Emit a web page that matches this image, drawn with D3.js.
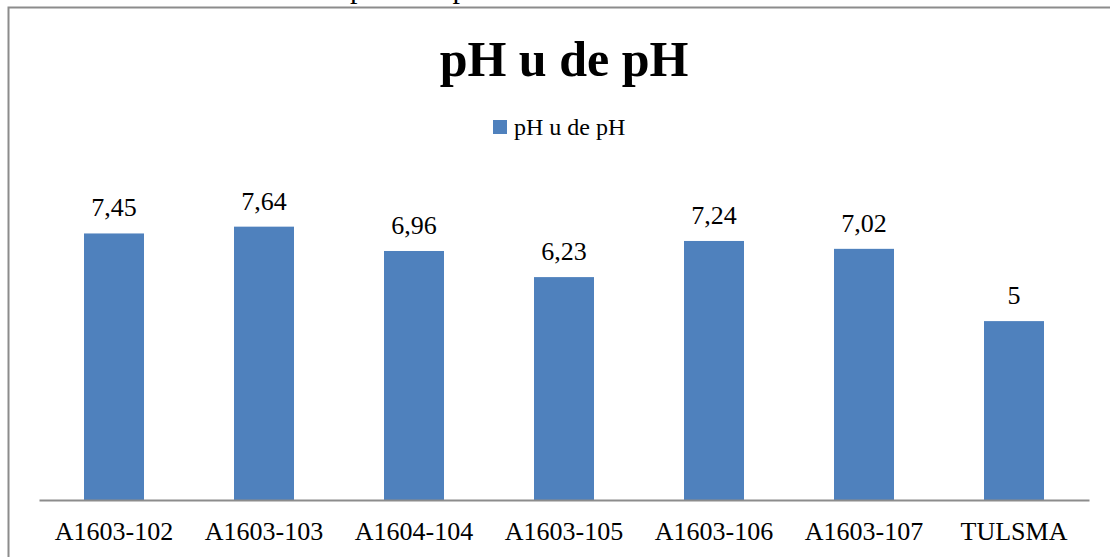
<!DOCTYPE html>
<html>
<head>
<meta charset="utf-8">
<script src="https://cdn.jsdelivr.net/npm/d3@7/dist/d3.min.js"></script>
<style>
  html, body { margin: 0; padding: 0; background: #fff; }
  svg text { font-family: "Liberation Serif", "DejaVu Serif", serif; }
</style>
</head>
<body>
<svg id="chart" width="1110" height="557"></svg>
<script>
// pH readings per sample
const categories = ["A1603-102", "A1603-103", "A1604-104", "A1603-105", "A1603-106", "A1603-107", "TULSMA"];
const values = [7.45, 7.64, 6.96, 6.23, 7.24, 7.02, 5];
const valueLabels = ["7,45", "7,64", "6,96", "6,23", "7,24", "7,02", "5"];
const seriesName = "pH u de pH";
const chartTitle = "pH u de pH";

const FONT = "Liberation Serif, DejaVu Serif, serif";
const svg = d3.select("#chart");
const W = 1110, H = 557;
const barColor = "#4f81bd";

// Heading line of the surrounding page, partly cut off above the frame
svg.append("text")
  .attr("x", 350).attr("y", -2)
  .attr("font-family", FONT)
  .attr("font-size", 30)
  .attr("fill", "#000")
  .text("pH u de pH");

// Chart frame
svg.append("rect")
  .attr("x", 8.5).attr("y", 7.5)
  .attr("width", W + 10).attr("height", H + 10)
  .attr("fill", "#fff")
  .attr("stroke", "#8c8c8c")
  .attr("stroke-width", 2);

const plot = { left: 39, right: 1089, top: 178, bottom: 500 };

const x = d3.scaleBand()
  .domain(categories)
  .range([plot.left, plot.right])
  .paddingInner(0.6)
  .paddingOuter(0.3);

const y = d3.scaleLinear()
  .domain([0, 9])
  .range([plot.bottom, plot.top]);

// Title
svg.append("text")
  .attr("x", 564).attr("y", 76)
  .attr("text-anchor", "middle")
  .attr("font-family", FONT)
  .attr("font-size", 50)
  .attr("font-weight", "bold")
  .text(chartTitle);

// Legend
const legend = svg.append("g").attr("transform", "translate(493,120)");
legend.append("rect")
  .attr("x", 0).attr("y", 0).attr("width", 14).attr("height", 14)
  .attr("fill", barColor);
legend.append("text")
  .attr("x", 21).attr("y", 15)
  .attr("font-family", FONT)
  .attr("font-size", 24)
  .text(seriesName);

// Bars
svg.append("g").selectAll("rect")
  .data(values)
  .join("rect")
  .attr("x", (d, i) => x(categories[i]))
  .attr("y", d => y(d))
  .attr("width", x.bandwidth())
  .attr("height", d => y(0) - y(d))
  .attr("fill", barColor);

// Value labels
svg.append("g").selectAll("text")
  .data(values)
  .join("text")
  .attr("x", (d, i) => x(categories[i]) + x.bandwidth() / 2)
  .attr("y", d => y(d) - 17)
  .attr("text-anchor", "middle")
  .attr("font-family", FONT)
  .attr("font-size", 26)
  .text((d, i) => valueLabels[i]);

// Category axis
const xAxis = svg.append("g")
  .attr("transform", `translate(0,${plot.bottom})`)
  .call(d3.axisBottom(x).tickSize(0).tickPadding(0));
xAxis.attr("font-family", FONT);
xAxis.select(".domain").attr("stroke", "#8c8c8c").attr("stroke-width", 2);
xAxis.selectAll("text")
  .attr("font-family", FONT)
  .attr("font-size", 26)
  .attr("fill", "#000")
  .attr("dy", null)
  .attr("y", 40);
</script>
</body>
</html>
